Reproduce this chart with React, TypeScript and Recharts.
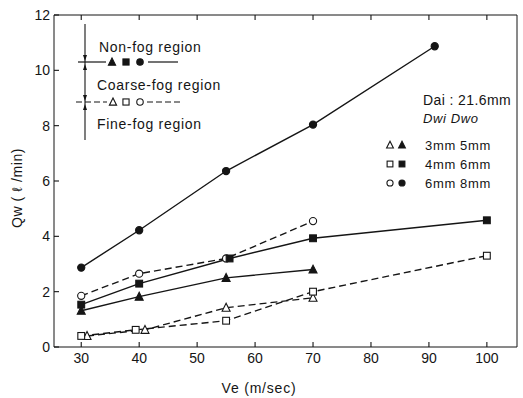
import { LineChart, Line, XAxis, YAxis } from "recharts";

// Ve (m/sec) and Qw (l/min)
const veOpenTri = [31, 41, 55, 70];
const qwOpenTri = [0.4, 0.62, 1.42, 1.78];
const veOpenSq = [30, 39.4, 55, 70, 100];
const qwOpenSq = [0.4, 0.62, 0.95, 2.0, 3.3];
const veOpenCirc = [30, 40, 55, 70];
const qwOpenCirc = [1.85, 2.65, 3.2, 4.55];
const veFillTri = [30, 40, 55, 70];
const qwFillTri = [1.31, 1.82, 2.5, 2.8];
const veFillSq = [30, 40, 55.6, 70, 100];
const qwFillSq = [1.53, 2.29, 3.2, 3.93, 4.58];
const veFillCirc = [30, 40, 55, 70, 91];
const qwFillCirc = [2.87, 4.22, 6.36, 8.04, 10.87];

const xTicks = [30, 40, 50, 60, 70, 80, 90, 100];
const yTicks = [0, 2, 4, 6, 8, 10, 12];

const sizeRows = [
  { dwi: "3mm", dwo: "5mm", shape: "tri" },
  { dwi: "4mm", dwo: "6mm", shape: "sq" },
  { dwi: "6mm", dwo: "8mm", shape: "circ" },
];

const ink = "#151515";
const font = "'Liberation Sans', Arial, sans-serif";

const toPts = (ve: number[], qw: number[]) =>
  ve.map((v, i) => ({ ve: v, qw: qw[i] }));

function Symbol({ shape, filled, x, y, r = 4 }: any) {
  const fill = filled ? ink : "#fff";
  if (shape === "tri") {
    const h = r * 1.1;
    return (
      <polygon
        points={`${x},${y - h} ${x - r},${y + h * 0.8} ${x + r},${y + h * 0.8}`}
        fill={fill}
        stroke={ink}
        strokeWidth={1.1}
      />
    );
  }
  if (shape === "sq") {
    return (
      <rect x={x - r * 0.85} y={y - r * 0.85} width={r * 1.7} height={r * 1.7}
        fill={fill} stroke={ink} strokeWidth={1.1} />
    );
  }
  return <circle cx={x} cy={y} r={r * 0.9} fill={fill} stroke={ink} strokeWidth={1.1} />;
}

const marker = (shape: string, filled: boolean) => (p: any) =>
  <Symbol key={p.index} shape={shape} filled={filled} x={p.cx} y={p.cy} />;

const series = [
  { name: "openTri", data: toPts(veOpenTri, qwOpenTri), shape: "tri", filled: false },
  { name: "openSq", data: toPts(veOpenSq, qwOpenSq), shape: "sq", filled: false },
  { name: "openCirc", data: toPts(veOpenCirc, qwOpenCirc), shape: "circ", filled: false },
  { name: "fillTri", data: toPts(veFillTri, qwFillTri), shape: "tri", filled: true },
  { name: "fillSq", data: toPts(veFillSq, qwFillSq), shape: "sq", filled: true },
  { name: "fillCirc", data: toPts(veFillCirc, qwFillCirc), shape: "circ", filled: true },
];

// inward tick marks, drawn by hand because the scan has them inside the frame
const tickText = { fill: ink, fontFamily: font, fontSize: 14 };

const BottomTick = ({ x, y, payload }: any) => (
  <g>
    <line x1={x} y1={y} x2={x} y2={y - 5} stroke={ink} strokeWidth={1.1} />
    <text x={x} y={y + 16} textAnchor="middle" {...tickText}>{payload.value}</text>
  </g>
);
const TopTick = ({ x, y }: any) => (
  <line x1={x} y1={y} x2={x} y2={y + 5} stroke={ink} strokeWidth={1.1} />
);
const LeftTick = ({ x, y, payload }: any) => (
  <g>
    <line x1={x} y1={y} x2={x + 5} y2={y} stroke={ink} strokeWidth={1.1} />
    <text x={x - 4} y={y + 5} textAnchor="end" {...tickText}>{payload.value}</text>
  </g>
);
const RightTick = ({ x, y }: any) => (
  <line x1={x} y1={y} x2={x - 5} y2={y} stroke={ink} strokeWidth={1.1} />
);

function Arrow({ x, y, dir }: any) {
  const d = dir === "down" ? 1 : -1;
  return <polygon points={`${x},${y} ${x - 2},${y - 6 * d} ${x + 2},${y - 6 * d}`} fill={ink} />;
}

function Notes() {
  const t = { fontFamily: font, fontSize: 14, fill: ink, letterSpacing: 0.7 };
  return (
    <svg width={523} height={398} style={{ position: "absolute", left: 0, top: 0, pointerEvents: "none" }}>
      {/* region key, top left */}
      <line x1={85} y1={24} x2={85} y2={140} stroke={ink} strokeWidth={1.1} />
      <Arrow x={85} y={61} dir="down" />
      <Arrow x={85} y={64} dir="up" />
      <Arrow x={85} y={101} dir="down" />
      <Arrow x={85} y={104} dir="up" />
      <text x={99} y={52} {...t}>Non-fog region</text>
      <line x1={78} y1={62} x2={106} y2={62} stroke={ink} strokeWidth={1.2} />
      <line x1={148} y1={62} x2={178} y2={62} stroke={ink} strokeWidth={1.2} />
      <Symbol shape="tri" filled x={112} y={62} r={3.6} />
      <Symbol shape="sq" filled x={126} y={62} r={3.6} />
      <Symbol shape="circ" filled x={140} y={62} r={3.6} />
      <text x={97} y={90} {...t}>Coarse-fog region</text>
      <line x1={76} y1={102} x2={107} y2={102} stroke={ink} strokeWidth={1.2} strokeDasharray="6 3" />
      <line x1={147} y1={102} x2={183} y2={102} stroke={ink} strokeWidth={1.2} strokeDasharray="6 3" />
      <Symbol shape="tri" filled={false} x={113} y={102} r={3.6} />
      <Symbol shape="sq" filled={false} x={126} y={102} r={3.6} />
      <Symbol shape="circ" filled={false} x={140} y={102} r={3.6} />
      <text x={97} y={129} {...t}>Fine-fog region</text>

      {/* nozzle key, right */}
      <text x={423} y={105} {...t} letterSpacing={0.4}>Dai : 21.6mm</text>
      <text x={423} y={123} {...t} fontSize={13} fontStyle="italic" letterSpacing={0.6}>Dwi  Dwo</text>
      {sizeRows.map((row, i) => {
        const y = 145 + i * 19;
        return (
          <g key={row.dwi}>
            <Symbol shape={row.shape} filled={false} x={390} y={y} r={3.4} />
            <Symbol shape={row.shape} filled x={402} y={y} r={3.4} />
            <text x={425} y={y + 5} {...t} fontSize={13}>{row.dwi}</text>
            <text x={460} y={y + 5} {...t} fontSize={13}>{row.dwo}</text>
          </g>
        );
      })}

      {/* axis titles */}
      <text x={259} y={393} textAnchor="middle" {...t} letterSpacing={0.8}>Ve (m/sec)</text>
      <text x={22} y={188} textAnchor="middle" transform="rotate(-90 22 188)" {...t} letterSpacing={0.6}>
        Qw ( ℓ /min)
      </text>
    </svg>
  );
}

export default function App() {
  return (
    <div style={{ position: "absolute", left: 0, top: 0, width: 523, height: 398, background: "#fff" }}>
      <LineChart width={523} height={398} margin={{ top: 14, right: 5, left: 0, bottom: 21 }}>
        <XAxis
          dataKey="ve"
          type="number"
          domain={[25.3, 105.2]}
          allowDataOverflow
          ticks={xTicks}
          tickSize={0}
          tickMargin={0}
          tickLine={false}
          height={30}
          stroke={ink}
          tick={<BottomTick />}
        />
        <XAxis
          xAxisId="top"
          orientation="top"
          dataKey="ve"
          type="number"
          domain={[25.3, 105.2]}
          allowDataOverflow
          ticks={xTicks}
          tickSize={0}
          tickMargin={0}
          tickLine={false}
          height={1}
          stroke={ink}
          tick={<TopTick />}
        />
        <YAxis
          domain={[0, 12]}
          ticks={yTicks}
          tickSize={0}
          tickMargin={0}
          tickLine={false}
          width={54}
          stroke={ink}
          tick={<LeftTick />}
        />
        <YAxis
          yAxisId="right"
          orientation="right"
          domain={[0, 12]}
          ticks={yTicks}
          tickSize={0}
          tickMargin={0}
          tickLine={false}
          width={1}
          stroke={ink}
          tick={<RightTick />}
        />
        {series.map((s) => (
          <Line
            key={s.name}
            data={s.data}
            dataKey="qw"
            type="linear"
            stroke={ink}
            strokeWidth={1.4}
            strokeDasharray={s.filled ? undefined : "7 4"}
            dot={marker(s.shape, s.filled)}
            activeDot={false}
            isAnimationActive={false}
          />
        ))}
      </LineChart>
      <Notes />
    </div>
  );
}
